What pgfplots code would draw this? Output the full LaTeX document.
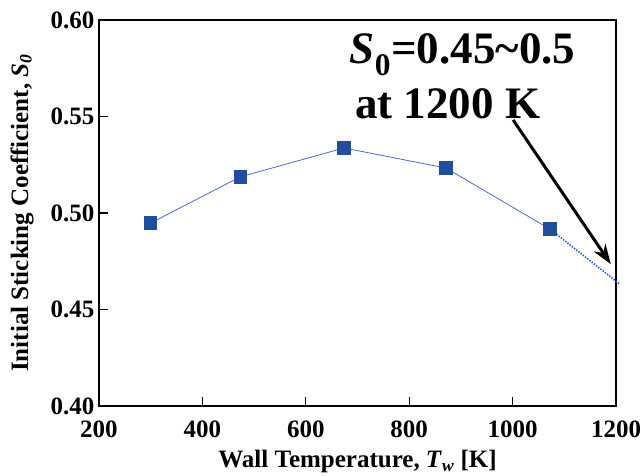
\documentclass[border=0pt]{standalone}
\usepackage{fontspec}
\setmainfont{Liberation Serif}
\usepackage{pgfplots}
\pgfplotsset{compat=1.18}
\usetikzlibrary{arrows.meta}
\definecolor{mk}{HTML}{1F4E9E}
\definecolor{ln}{HTML}{4A6BC8}
\definecolor{dt}{HTML}{1E50F0}
\begin{document}
\begin{tikzpicture}
\begin{axis}[
  scale only axis, width=517pt, height=386pt,
  xmin=200, xmax=1200, ymin=0.4, ymax=0.6,
  xtick={200,400,600,800,1000,1200},
  ytick={0.40,0.45,0.50,0.55,0.60},
  tick align=inside, xtick pos=bottom, ytick pos=left,
  major tick length=9pt,
  axis line style={line width=1.3pt},
  tick style={black, line width=1.2pt},
  /pgf/number format/assume math mode=true,
  y tick label style={/pgf/number format/.cd, fixed, fixed zerofill, precision=2, /tikz/.cd, xshift=-1pt},
  x tick label style={/pgf/number format/.cd, 1000 sep={}, /tikz/.cd, yshift=-11pt},
  tick label style={font=\fontsize{25}{25}\selectfont\bfseries},
  xlabel={Wall Temperature, \textit{T}\textsubscript{\textit{w}} [K]},
  ylabel={Initial Sticking Coefficient, \textit{S}\textsubscript{\textit{0}}},
  label style={font=\fontsize{25}{25}\selectfont\bfseries},
  xlabel style={at={(axis description cs:0.5,-0.145)}, anchor=center},
  ylabel style={at={(axis description cs:-0.149,0.5)}, anchor=center},
  clip=false,
]
\addplot[ln, line width=0.8pt, mark=square*, mark size=6.2pt,
  mark options={draw=mk, fill=mk, solid}]
  coordinates {(300,0.4948) (473,0.5187) (674,0.5337) (871,0.5233) (1072,0.4917)};
\addplot[dt, line width=1.6pt, dash pattern=on 1.4pt off 1.4pt]
  coordinates {(1072,0.4917) (1207,0.4632)};
\node[anchor=base west, inner sep=0pt, font=\fontsize{45}{45}\selectfont\bfseries]
  at (axis cs:685,0.5777) {\textit{S}\textsubscript{0}=0.45\textasciitilde0.5};
\node[anchor=base west, inner sep=0pt, font=\fontsize{45}{45}\selectfont\bfseries]
  at (axis cs:695,0.5492) {at 1200 K};
\draw[line width=3pt, -{Stealth[length=20pt, width=14pt]}]
  (axis cs:1001,0.5482) -- (axis cs:1190,0.4735);
\coordinate (o) at (rel axis cs:0,0);
\end{axis}
\pgfresetboundingbox
\path[use as bounding box] (o) ++(-99pt,-69pt) rectangle ++(643pt,475pt);
\end{tikzpicture}
\end{document}
